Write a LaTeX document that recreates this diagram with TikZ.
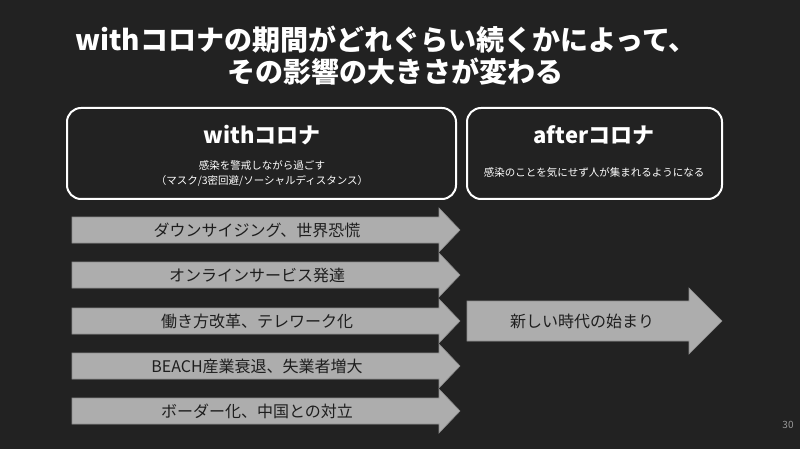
\documentclass[tikz,border=0pt]{standalone}
\usepackage{fontspec}
\setmainfont{Noto Sans CJK JP}
\definecolor{bg}{HTML}{222222}
\definecolor{arrowfill}{HTML}{ADADAD}
\definecolor{arrowedge}{HTML}{8C8C8C}
\definecolor{arrowtxt}{HTML}{1E1E1E}
\definecolor{pagenum}{HTML}{9A9A9A}
\tikzset{
  titletext/.style={text=white,font=\fontsize{28}{32}\selectfont\bfseries,inner sep=0pt},
  phasebox/.style={draw=white,line width=2pt,rounded corners=14pt},
  boxtitle/.style={text=white,font=\fontsize{22}{26}\selectfont\bfseries,inner sep=0pt},
  boxsub/.style={text=white,font=\fontsize{10.5}{15}\selectfont,align=center,inner sep=0pt},
  arrowshape/.style={fill=arrowfill,draw=arrowedge,line width=0.6pt},
  arrowtext/.style={text=arrowtxt,font=\fontsize{16}{18}\selectfont,inner sep=0pt},
}
\begin{document}
\begin{tikzpicture}[x=1pt,y=-1pt]
\fill[bg] (0,0) rectangle (800,449);
\useasboundingbox (0,0) rectangle (800,449);

% title
\node[titletext] (title1) at (386,40) {withコロナの期間がどれぐらい続くかによって、};
\node[titletext] (title2) at (395,72) {その影響の大きさが変わる};

% phase boxes
\draw[phasebox] (67,108) rectangle (456,199);
\node[boxtitle] (withT) at (262,135) {withコロナ};
\node[boxsub] (withS) at (262,173) {感染を警戒しながら過ごす\\（マスク/3密回避/ソーシャルディスタンス）};

\draw[phasebox] (467,108) rectangle (722,199);
\node[boxtitle] (afterT) at (594,135) {afterコロナ};
\node[boxsub] (afterS) at (594,173) {感染のことを気にせず人が集まれるようになる};

% left arrows
\draw[arrowshape] (72,217) -- (439,217) -- (439,208) -- (460,230) -- (439,252) -- (439,243) -- (72,243) -- cycle;
\node[arrowtext] (a1) at (257,230) {ダウンサイジング、世界恐慌};

\draw[arrowshape] (72,262) -- (439,262) -- (439,253) -- (460,275) -- (439,297) -- (439,288) -- (72,288) -- cycle;
\node[arrowtext] (a2) at (257,275) {オンラインサービス発達};

\draw[arrowshape] (72,308) -- (439,308) -- (439,299) -- (460,321) -- (439,343) -- (439,334) -- (72,334) -- cycle;
\node[arrowtext] (a3) at (257,321) {働き方改革、テレワーク化};

\draw[arrowshape] (72,353) -- (439,353) -- (439,344) -- (460,366) -- (439,388) -- (439,379) -- (72,379) -- cycle;
\node[arrowtext] (a4) at (257,366) {BEACH産業衰退、失業者増大};

\draw[arrowshape] (72,398) -- (439,398) -- (439,389) -- (460,411) -- (439,433) -- (439,424) -- (72,424) -- cycle;
\node[arrowtext] (a5) at (257,411) {ボーダー化、中国との対立};

% right arrow
\draw[arrowshape] (467,301) -- (689,301) -- (689,288) -- (722,321) -- (689,354) -- (689,341) -- (467,341) -- cycle;
\node[arrowtext] (r1) at (582,321) {新しい時代の始まり};

% page number
\node[text=pagenum,font=\fontsize{10}{12}\selectfont,inner sep=0pt] (pg) at (788,425) {30};
\end{tikzpicture}
\end{document}
